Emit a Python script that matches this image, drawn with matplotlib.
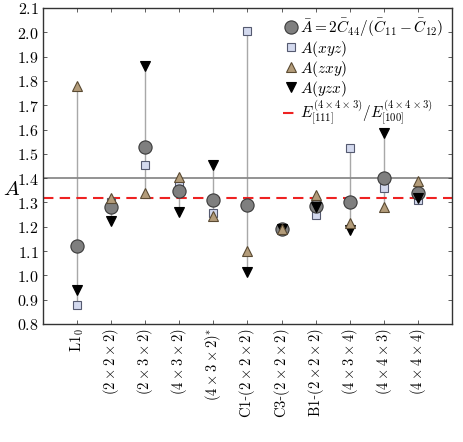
import numpy as np
import matplotlib
matplotlib.use('Agg')
import matplotlib.pyplot as plt

plt.rcParams['mathtext.fontset'] = 'cm'
plt.rcParams['font.family'] = ['DejaVu Serif']

# Data
labels = [r'$\mathrm{L1}_0$', r'$(2\times2\times2)$', r'$(2\times3\times2)$',
          r'$(4\times3\times2)$', r'$(4\times3\times2)^{*}$',
          r'$\mathrm{C1}$-$(2\times2\times2)$', r'$\mathrm{C3}$-$(2\times2\times2)$',
          r'$\mathrm{B1}$-$(2\times2\times2)$', r'$(4\times3\times4)$',
          r'$(4\times4\times3)$', r'$(4\times4\times4)$']
A_bar = [1.12, 1.28, 1.53, 1.345, 1.31, 1.29, 1.19, 1.285, 1.30, 1.40, 1.34]
A_xyz = [0.88, 1.30, 1.455, 1.37, 1.255, 2.005, 1.19, 1.25, 1.525, 1.36, 1.31]
A_zxy = [1.78, 1.32, 1.34, 1.405, 1.245, 1.10, 1.19, 1.33, 1.215, 1.28, 1.39]
A_yzx = [0.94, 1.225, 1.86, 1.26, 1.455, 1.015, 1.19, 1.28, 1.185, 1.585, 1.32]
ref_line = 1.40
E_ratio = 1.32
yticks = np.arange(0.8, 2.11, 0.1)

x = np.arange(len(labels))

fig = plt.figure(figsize=(4.63, 4.42), dpi=100)
ax = fig.add_axes([0.093, 0.267, 0.883, 0.715])

all_vals = np.array([A_bar, A_xyz, A_zxy, A_yzx])
ax.vlines(x, all_vals.min(axis=0), all_vals.max(axis=0), color='#a8a8a8', lw=1, zorder=1)
ax.axhline(ref_line, color='#8a8a8a', lw=1.3, zorder=1)
h_e, = ax.plot([-1, 11], [E_ratio, E_ratio], '--', color='#ee2222', lw=1.5, dashes=(5, 3), zorder=2)

h_sq, = ax.plot(x, A_xyz, 's', ms=6, mfc='#d3d9ee', mec='#555a70', mew=0.8, ls='none', zorder=3)
h_c, = ax.plot(x, A_bar, 'o', ms=9.5, mfc='#7f7f7f', mec='#3a3a3a', mew=0.8, ls='none', zorder=4)
h_dn, = ax.plot(x, A_yzx, 'v', ms=7.5, mfc='black', mec='black', mew=0.8, ls='none', zorder=5)
h_up, = ax.plot(x, A_zxy, '^', ms=7.5, mfc='#b39c7a', mec='#5a4a32', mew=0.8, ls='none', zorder=6)

ax.set_xlim(-1, 11)
ax.set_ylim(0.8, 2.1)
ax.set_yticks(yticks)
ax.set_yticklabels([r'$%.1f$' % v for v in yticks], fontsize=11.5)
ax.set_xticks(x)
ax.set_xticklabels(labels, rotation=90, fontsize=10.5)
ax.tick_params(direction='in', top=True, right=True, length=3, width=0.6, colors='#444444',
               labelcolor='black', pad=3)
ax.set_ylabel(r'$A$', fontsize=15, rotation=0, va='center', ha='center')
ax.yaxis.set_label_coords(-0.077, 0.425)
for s in ax.spines.values():
    s.set_linewidth(1.0)
    s.set_color('#333333')

ax.legend([h_c, h_sq, h_up, h_dn, h_e],
          [r'$\bar{A}=2\bar{C}_{44}/(\bar{C}_{11}-\bar{C}_{12})$', r'$A(xyz)$', r'$A(zxy)$',
           r'$A(yzx)$', r'$E^{(4\times4\times3)}_{[111]}/E^{(4\times4\times3)}_{[100]}$'],
          loc='upper right', frameon=False, fontsize=11, handlelength=1.0, handletextpad=0.1,
          labelspacing=0.0, borderaxespad=0.15)

plt.savefig('out.png', dpi=100)
